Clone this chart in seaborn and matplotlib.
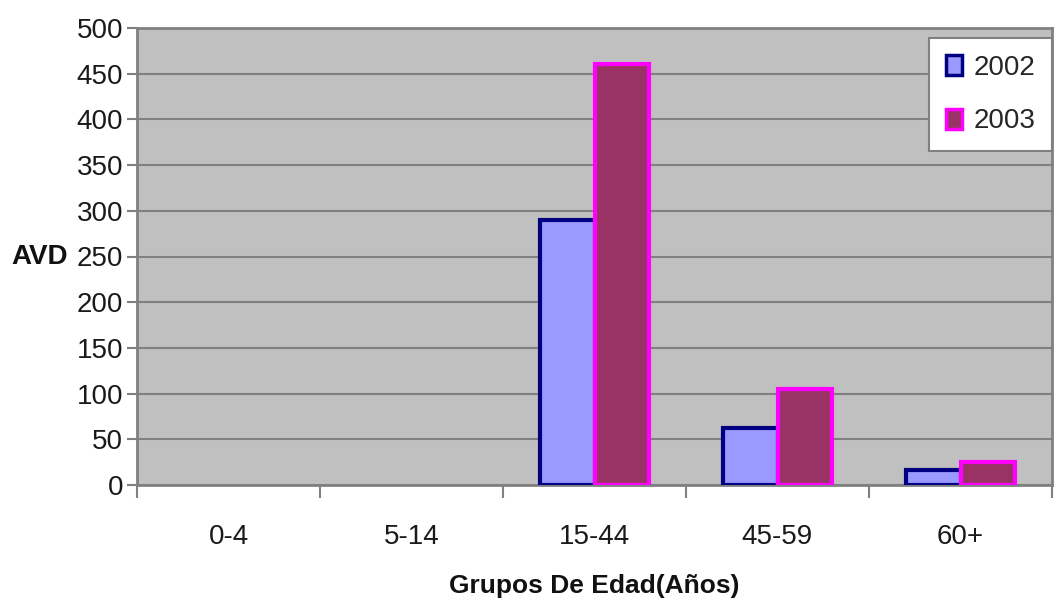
import matplotlib
matplotlib.use("Agg")
import matplotlib.pyplot as plt
import seaborn as sns
import pandas as pd

# Age groups and AVD values per year
age_groups = ["0-4", "5-14", "15-44", "45-59", "60+"]
avd_2002 = [0, 0, 290, 62, 16]
avd_2003 = [0, 0, 461, 105, 25]
years = ["2002", "2003"]

df = pd.DataFrame({
    "grupo": age_groups * 2,
    "avd": avd_2002 + avd_2003,
    "anio": [years[0]] * len(age_groups) + [years[1]] * len(age_groups),
})

sns.set_style("white")
plt.rcParams["font.family"] = ["Liberation Sans", "DejaVu Sans"]

fig = plt.figure(figsize=(10.56, 6.06), dpi=100)
ax = fig.add_axes([137 / 1056, 1 - 485 / 606, 915 / 1056, 457 / 606])

faces = {"2002": "#9999FF", "2003": "#993366"}
edges = {"2002": "#000080", "2003": "#FF00FF"}

sns.barplot(data=df, x="grupo", y="avd", hue="anio", order=age_groups,
            hue_order=years, palette=faces, width=0.6, gap=0,
            ax=ax, zorder=3, saturation=1, legend=True)

for container, yr in zip(ax.containers, years):
    for bar in container:
        bar.set_edgecolor(edges[yr])
        bar.set_linewidth(3 if bar.get_height() > 0 else 0)

ax.set_facecolor("#C0C0C0")
ax.set_ylim(0, 500)
ax.set_xlim(-0.5, len(age_groups) - 0.5)
ax.set_yticks(range(0, 501, 50))
ax.yaxis.grid(True, color="#808080", linewidth=1.5, zorder=0)
ax.set_axisbelow(True)

for side in ["top", "right", "left", "bottom"]:
    ax.spines[side].set_color("#808080")
    ax.spines[side].set_linewidth(2)

# Category separators as ticks on the x axis
ax.set_xticks(range(len(age_groups)))
ax.set_xticklabels(age_groups, fontsize=20, color="#1a1a1a")
ax.tick_params(axis="x", which="major", bottom=True, length=0, pad=28)
ax.set_xticks([i + 0.5 for i in range(-1, len(age_groups))], minor=True)
ax.tick_params(axis="x", which="minor", bottom=True, length=9, width=1.5,
               color="#808080", direction="out")
ax.tick_params(axis="y", left=True, labelsize=20, length=7, width=1.5, color="#808080",
               direction="out", labelcolor="#1a1a1a", pad=3)

ax.set_xlabel("Grupos De Edad(Años)", fontsize=19, fontweight="bold", labelpad=17, color="#111111")
ax.set_ylabel("AVD", fontsize=20, fontweight="bold", rotation=0, color="#111111",
              ha="center", va="center")
ax.yaxis.set_label_coords(-0.106, 0.498)

leg = ax.legend(title=None, loc="upper right", bbox_to_anchor=(1.0, 0.978),
                fontsize=20, frameon=True, fancybox=False, framealpha=1,
                edgecolor="#808080", handlelength=0.6, handleheight=0.75,
                handletextpad=0.4, labelspacing=1.0, borderpad=0.6, borderaxespad=0)
leg.get_frame().set_linewidth(1.5)
for h, yr in zip(leg.legend_handles, years):
    h.set_edgecolor(edges[yr])
    h.set_linewidth(2.5)

fig.savefig("out.png", dpi=100, facecolor="white")
